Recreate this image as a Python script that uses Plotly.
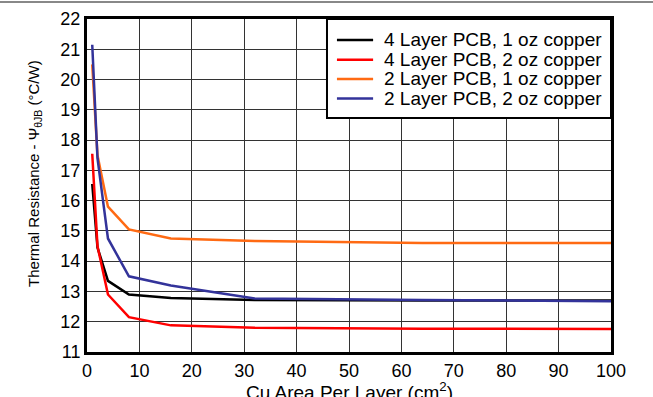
import plotly.graph_objects as go

# Cu area per layer (cm^2) and thermal resistance readings
area = [1, 2, 4, 8, 16, 32, 64, 100]
psi_4l_1oz = [16.55, 14.45, 13.35, 12.9, 12.78, 12.72, 12.7, 12.7]
psi_4l_2oz = [17.55, 14.5, 12.9, 12.15, 11.88, 11.8, 11.77, 11.76]
psi_2l_1oz = [20.5, 17.5, 15.8, 15.05, 14.75, 14.67, 14.6, 14.6]
psi_2l_2oz = [21.15, 17.4, 14.75, 13.5, 13.2, 12.77, 12.72, 12.68]

names = ["4 Layer PCB, 1 oz copper", "4 Layer PCB, 2 oz copper",
         "2 Layer PCB, 1 oz copper", "2 Layer PCB, 2 oz copper"]
colors = ["#000000", "#ff0000", "#ff6a13", "#33339a"]
values = [psi_4l_1oz, psi_4l_2oz, psi_2l_1oz, psi_2l_2oz]

fig = go.Figure()
for name, vals, col in zip(names, values, colors):
    fig.add_trace(go.Scatter(x=area, y=vals, name=name, mode="lines",
                             line=dict(color=col, width=2.5)))

font = "Liberation Sans, Arial, sans-serif"
fig.update_layout(
    width=653, height=397,
    margin=dict(l=87, r=42, t=19, b=45, autoexpand=False),
    paper_bgcolor="white", plot_bgcolor="white",
    font=dict(family=font, size=17, color="black"),
    showlegend=False,
)
fig.update_xaxes(range=[0, 100], dtick=10, showgrid=True, gridcolor="#333333",
                 gridwidth=1, showline=True, linecolor="black", linewidth=3,
                 mirror=True, ticks="", zeroline=False, automargin=False,
                 tickfont=dict(size=18))
fig.update_yaxes(range=[11, 22], dtick=1, showgrid=True, gridcolor="#333333",
                 gridwidth=1, showline=True, linecolor="black", linewidth=3,
                 mirror=True, ticks="", zeroline=False, automargin=False,
                 tickfont=dict(size=18))

# axis titles
fig.add_annotation(text="Cu Area Per Layer (cm<sup>2</sup>)", xref="paper", yref="paper",
                   x=0.5, y=-0.117, xanchor="center", yanchor="middle",
                   showarrow=False, font=dict(size=19))
fig.add_annotation(text="Thermal Resistance - Ψ<sub>θJB</sub> (°C/W)", xref="paper",
                   yref="paper", x=-0.099, y=0.535, xanchor="center",
                   yanchor="middle", textangle=-90, showarrow=False,
                   font=dict(size=15))

# legend box drawn by hand so the row spacing matches
fig.add_shape(type="rect", xref="paper", yref="paper", x0=0.458, x1=1.0,
              y0=0.703, y1=1.0, fillcolor="white",
              line=dict(color="black", width=2), layer="above")
row_y = [0.937, 0.878, 0.820, 0.761]
for name, col, ry in zip(names, colors, row_y):
    fig.add_shape(type="line", xref="paper", yref="paper", x0=0.477, x1=0.546,
                  y0=ry, y1=ry, line=dict(color=col, width=2.5), layer="above")
    fig.add_annotation(text=name, xref="paper", yref="paper", x=0.563, y=ry,
                       xanchor="left", yanchor="middle", showarrow=False,
                       font=dict(size=19))

# thin gray rule along the top of the page
fig.add_shape(type="line", xref="paper", yref="paper", x0=-0.2, x1=1.1,
              y0=1.051, y1=1.051, line=dict(color="#888888", width=2))

fig.write_html("out.html", config={"displayModeBar": False},
               post_script="document.body.style.margin='0';")
